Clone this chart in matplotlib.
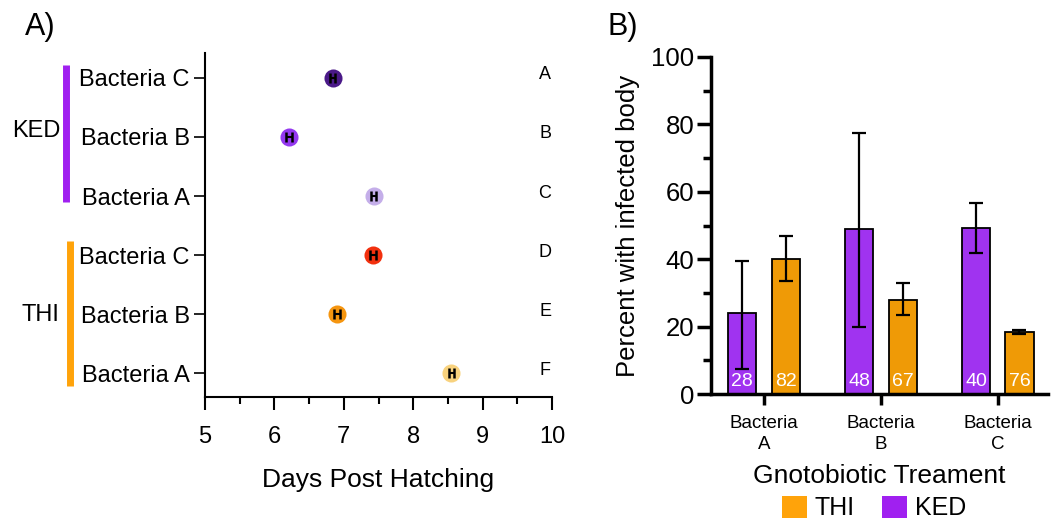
import matplotlib
matplotlib.use("Agg")
import matplotlib.pyplot as plt
from matplotlib.patches import Patch
from matplotlib.ticker import MultipleLocator
from matplotlib.transforms import blended_transform_factory
import numpy as np

plt.rcParams['font.family'] = ['Liberation Sans', 'DejaVu Sans']

# ---------- Panel A data ----------
rowLabels = ["Bacteria A", "Bacteria B", "Bacteria C", "Bacteria A", "Bacteria B", "Bacteria C"]
rowLetters = ["F", "E", "D", "C", "B", "A"]
daysMean = [8.55, 6.90, 7.42, 7.43, 6.21, 6.84]
daysErr = [0.04, 0.04, 0.04, 0.04, 0.04, 0.04]
rowColors = ["#f8d27e", "#f5950f", "#f2300e", "#c4aee9", "#9438f0", "#4a1988"]
groupNames = ["THI", "KED"]
groupColors = ["#ffa30a", "#a020f0"]

# ---------- Panel B data ----------
treatments = ["Bacteria\nA", "Bacteria\nB", "Bacteria\nC"]
kedPct = [24, 49, 49.3]
kedLow = [7.5, 20, 41.7]
kedHigh = [39.5, 77.5, 56.7]
thiPct = [40, 28, 18.3]
thiLow = [33.5, 23.5, 17.8]
thiHigh = [47, 33, 18.9]
kedN = [28, 48, 40]
thiN = [82, 67, 76]
kedColor = "#a033f0"
thiColor = "#ef9a06"

fig = plt.figure(figsize=(10.54, 5.25), dpi=100)

# ================= Panel A =================
axA = fig.add_axes([205/1054, 1-397/525, 347/1054, 344/525])
ypos = np.arange(len(rowLabels))
for i in range(len(ypos)):
    axA.plot(daysMean[i], ypos[i], 'o', ms=13, color=rowColors[i], mec='none', zorder=2)
    axA.errorbar(daysMean[i], ypos[i], xerr=daysErr[i], fmt='none', ecolor='black',
                 elinewidth=1.5, capsize=3.5, capthick=1.8, zorder=3)
axA.set_xlim(5, 10)
axA.set_ylim(-0.4, 5.42)
axA.set_yticks(ypos)
axA.set_yticklabels(rowLabels, fontsize=17)
axA.xaxis.set_major_locator(MultipleLocator(1))
axA.xaxis.set_minor_locator(MultipleLocator(0.5))
axA.tick_params(axis='x', which='major', length=9, width=1.5, labelsize=17, pad=12)
axA.tick_params(axis='x', which='minor', length=5, width=1.5)
axA.tick_params(axis='y', which='major', length=8, width=1.2, pad=3)
for s in ['top', 'right']:
    axA.spines[s].set_visible(False)
for s in ['left', 'bottom']:
    axA.spines[s].set_linewidth(1.5)
axA.set_xlabel("Days Post Hatching", fontsize=19, labelpad=14)

trA = blended_transform_factory(axA.transAxes, axA.transData)
for i, letter in enumerate(rowLetters):
    axA.text(0.98, ypos[i] + 0.05, letter, transform=trA, fontsize=13,
             ha='center', va='center')

# group bars
groupSpans = [(-0.22, 2.24), (2.9, 5.22)]
groupX = [-0.389, -0.40]
labelX = [-0.475, -0.485]
labelY = [0.98, 4.1]
for g in range(2):
    axA.plot([groupX[g], groupX[g]], groupSpans[g], color=groupColors[g], lw=5,
             transform=trA, clip_on=False, solid_capstyle='butt')
    axA.text(labelX[g], labelY[g], groupNames[g], transform=trA, fontsize=17,
             ha='center', va='center')

fig.text(25/1054, 1-27/525, "A)", fontsize=22, ha='left', va='center')

# ================= Panel B =================
axB = fig.add_axes([711/1054, 1-394/525, 337/1054, 337/525])
x = np.arange(len(treatments))
off = 0.186
w = 0.24
kedErr = [np.array(kedPct) - np.array(kedLow), np.array(kedHigh) - np.array(kedPct)]
thiErr = [np.array(thiPct) - np.array(thiLow), np.array(thiHigh) - np.array(thiPct)]
axB.bar(x - off, kedPct, w, color=kedColor, edgecolor='black', linewidth=1.3, zorder=2)
axB.bar(x + off, thiPct, w, color=thiColor, edgecolor='black', linewidth=1.3, zorder=2)
axB.errorbar(x - off, kedPct, yerr=kedErr, fmt='none', ecolor='black', elinewidth=1.6,
             capsize=5, capthick=1.6, zorder=3)
axB.errorbar(x + off, thiPct, yerr=thiErr, fmt='none', ecolor='black', elinewidth=1.6,
             capsize=5, capthick=1.6, zorder=3)
for i in range(len(x)):
    axB.text(x[i] - off, 1.2, str(kedN[i]), color='white', fontsize=14, ha='center', va='bottom', zorder=4)
    axB.text(x[i] + off, 1.2, str(thiN[i]), color='white', fontsize=14, ha='center', va='bottom', zorder=4)

axB.set_xlim(-0.453, 2.43)
axB.set_ylim(0, 100)
axB.yaxis.set_major_locator(MultipleLocator(20))
axB.yaxis.set_minor_locator(MultipleLocator(10))
axB.set_xticks(x)
axB.set_xticklabels(treatments, fontsize=13.5, linespacing=1.3)
axB.tick_params(axis='y', which='major', length=10, width=2.5, labelsize=18.5, pad=2)
axB.tick_params(axis='y', which='minor', length=6, width=2.5)
axB.tick_params(axis='x', which='major', length=8, width=2.5, pad=7)
for s in ['top', 'right']:
    axB.spines[s].set_visible(False)
for s in ['left', 'bottom']:
    axB.spines[s].set_linewidth(2.5)
axB.set_ylabel("Percent with infected body", fontsize=18.5, labelpad=8)
axB.set_xlabel("Gnotobiotic Treament", fontsize=19, labelpad=8)

fig.text(607/1054, 1-27/525, "B)", fontsize=22, ha='left', va='center')

handles = [Patch(facecolor=groupColors[0], edgecolor='none'),
           Patch(facecolor=groupColors[1], edgecolor='none')]
fig.legend(handles, groupNames, loc='center', bbox_to_anchor=(874/1054, 1-508/525),
           ncol=2, frameon=False, fontsize=18, handlelength=1.0, handleheight=1.0,
           handletextpad=0.3, columnspacing=1.1, borderaxespad=0)

fig.savefig("out.png", dpi=100)
